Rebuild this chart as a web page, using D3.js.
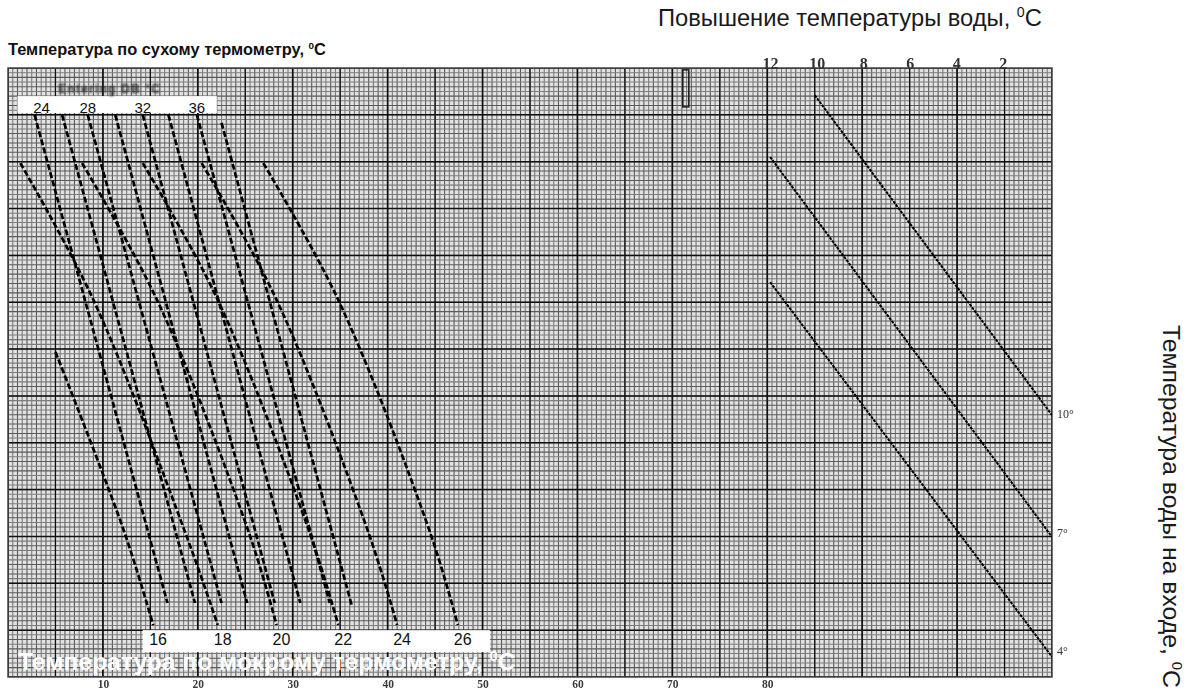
<!DOCTYPE html>
<html><head><meta charset="utf-8">
<script src="https://cdn.jsdelivr.net/npm/d3@7"></script>
<style>
html,body{margin:0;padding:0;background:#fff;}
svg{display:block;}
</style></head><body>
<svg id="chart" width="1189" height="691"></svg>
<script>
// ---------------- data ----------------
const xTicks = [10, 20, 30, 40, 50, 60, 70, 80];
const riseTicks = [12, 10, 8, 6, 4, 2];
const inletTicks = [10, 7, 4];

// dry bulb (entering DB) dashed lines
const dryTemps = [24, 26, 28, 30, 32, 34, 36, 38];
const dryLabelTemps = [24, 28, 32, 36];
const dryStartX = [2.8, 5.7, 8.4, 11.3, 14.2, 16.9, 19.9, 22.5];
const dryStartY = [120, 120, 120, 120, 120, 120, 120, 118.3];
const dryEndX = [16.8, 19.7, 22.5, 25.2, 28.1, 30.8, 33.9, 36.2];
const dryEndY = [15.8, 15.8, 15.8, 15.8, 15.8, 15.8, 15.8, 15.4];

// wet bulb dashed lines
const wetTemps = [16, 18, 20, 22, 24, 26];
const wet16 = [[5.0, 69.4], [12.3, 30.7], [15.3, 11.1]];
const wet18 = [[1.3, 109.7], [9.0, 80.5], [18.7, 30.7], [22.1, 11.1]];
const wet20 = [[7.8, 109.7], [15.7, 80.5], [25.4, 30.7], [28.3, 11.1]];
const wet22 = [[14.2, 109.7], [22.1, 80.5], [31.8, 30.7], [34.8, 11.1]];
const wet24 = [[20.4, 109.7], [28.3, 80.5], [38.0, 30.7], [41.0, 11.1]];
const wet26 = [[26.9, 109.7], [34.8, 80.5], [44.5, 30.7], [47.4, 11.1]];
const wetLines = [wet16, wet18, wet20, wet22, wet24, wet26];

// water temperature rise / inlet temperature lines (right)
const inletStartX = [85.0, 80.3, 80.3];
const inletStartY = [124.2, 111.0, 84.3];
const inletEndX = [110, 110, 110];
const inletEndY = [55.9, 29.9, 4.3];

// ---------------- layout ----------------
const svg = d3.select("#chart");
const x = d3.scaleLinear().domain([0, 110]).range([8, 1052]);
const y = d3.scaleLinear().domain([0, 130]).range([677, 68]);
const riseScale = d3.scaleLinear().domain([12, 2]).range([x(80.3), x(104.8)]);
const inletScale = d3.scaleLinear().domain([10, 4]).range([y(55.9) - 1, y(4.3) - 6]);

const defs = svg.append("defs");
defs.append("filter").attr("id", "blur").append("feGaussianBlur").attr("stdDeviation", 0.5);
defs.append("filter").attr("id", "blur2").append("feGaussianBlur").attr("stdDeviation", 0.8);
defs.append("filter").attr("id", "soft").append("feGaussianBlur").attr("stdDeviation", 0.35);
defs.append("clipPath").attr("id", "plotclip").append("rect")
  .attr("x", x(0)).attr("y", y(130)).attr("width", x(110) - x(0)).attr("height", y(0) - y(130));

// ---------- grid paper ----------
const grid = svg.append("g").attr("clip-path", "url(#plotclip)");
const paper = grid.append("g").attr("filter", "url(#soft)");
paper.append("rect").attr("x", x(0)).attr("y", y(130))
  .attr("width", x(110) - x(0)).attr("height", y(0) - y(130)).attr("fill", "#e2e2e2");

const fineX = d3.range(0, 110.01, 0.5);
const fineY = d3.range(0, 130.01, 1);
paper.append("g").selectAll("line").data(fineX).join("line")
  .attr("x1", d => x(d)).attr("x2", d => x(d)).attr("y1", y(0)).attr("y2", y(130))
  .attr("stroke", d => (Math.round(d * 2) % 2 === 0 ? "#5a5a5a" : "#7c7c7c"))
  .attr("stroke-width", 1.1);
paper.append("g").selectAll("line").data(fineY).join("line")
  .attr("x1", x(0)).attr("x2", x(110)).attr("y1", d => y(d)).attr("y2", d => y(d))
  .attr("stroke", d => (d % 2 === 0 ? "#5a5a5a" : "#7c7c7c"))
  .attr("stroke-width", 1.05);

const majorX = d3.range(0, 110.01, 5);
const majorY = d3.range(0, 130.01, 10);
grid.append("g").selectAll("line").data(majorX).join("line")
  .attr("x1", d => x(d)).attr("x2", d => x(d)).attr("y1", y(0)).attr("y2", y(130))
  .attr("stroke", "#111").attr("stroke-width", d => d % 10 === 0 ? 1.7 : 1.3);
grid.append("g").selectAll("line").data(majorY).join("line")
  .attr("x1", x(0)).attr("x2", x(110)).attr("y1", d => y(d)).attr("y2", d => y(d))
  .attr("stroke", "#111").attr("stroke-width", 1.5);

svg.append("rect").attr("x", x(0)).attr("y", y(130))
  .attr("width", x(110) - x(0)).attr("height", y(0) - y(130))
  .attr("fill", "none").attr("stroke", "#444").attr("stroke-width", 1.5);

// ---------- curves ----------
const lineGen = d3.line().x(d => x(d[0])).y(d => y(d[1])).curve(d3.curveCatmullRom.alpha(0.5));

const curves = svg.append("g").attr("clip-path", "url(#plotclip)");
curves.selectAll("path.dry").data(dryTemps).join("path").attr("class", "dry")
  .attr("d", (d, i) => lineGen([[dryStartX[i], dryStartY[i]], [dryEndX[i], dryEndY[i]]]))
  .attr("fill", "none").attr("stroke", "#000").attr("stroke-width", 2.7)
  .attr("stroke-dasharray", "6,2.5");
curves.selectAll("path.wet").data(wetLines).join("path").attr("class", "wet")
  .attr("d", d => lineGen(d))
  .attr("fill", "none").attr("stroke", "#000").attr("stroke-width", 2.7)
  .attr("stroke-dasharray", "6,2.5");
curves.selectAll("path.inlet").data(inletTicks).join("path").attr("class", "inlet")
  .attr("d", (d, i) => lineGen([[inletStartX[i], inletStartY[i]], [inletEndX[i], inletEndY[i]]]))
  .attr("fill", "none").attr("stroke", "#000").attr("stroke-width", 2)
  .attr("stroke-dasharray", "3,1");

// small vertical glyph at top
svg.append("rect").attr("x", x(71.1)).attr("y", y(129.6)).attr("width", 6).attr("height", y(121.7) - y(129.6))
  .attr("fill", "none").attr("stroke", "#222").attr("stroke-width", 1.6).attr("filter", "url(#blur)");

// ---------- label boxes ----------
svg.append("rect").attr("x", x(1.0)).attr("y", y(124.0)).attr("width", x(22.0) - x(1.0))
  .attr("height", y(120.4) - y(124.0)).attr("fill", "#fff");
svg.append("g").selectAll("text").data(dryLabelTemps).join("text")
  .attr("x", d => x(dryStartX[dryTemps.indexOf(d)]) + (d === 24 ? 7 : 0))
  .attr("y", y(120.4))
  .attr("text-anchor", "middle").attr("font-family", "Liberation Sans, Arial, sans-serif")
  .attr("font-size", 15).attr("fill", "#111").text(d => d);

svg.append("text").attr("x", x(5.3)).attr("y", y(124.6))
  .attr("font-family", "Liberation Sans, Arial, sans-serif").attr("font-weight", "bold")
  .attr("font-size", 12).attr("letter-spacing", 1.2).attr("fill", "#222").attr("filter", "url(#blur2)")
  .text("Entering DB   °C");

svg.append("rect").attr("x", x(14.2)).attr("y", y(10.0)).attr("width", x(50.8) - x(14.2))
  .attr("height", y(5.3) - y(10.0)).attr("fill", "#fff");
svg.append("g").selectAll("text").data(wetTemps).join("text")
  .attr("x", (d, i) => x(wetLines[i][wetLines[i].length - 1][0]) - 4)
  .attr("y", y(6.9))
  .attr("font-family", "Liberation Sans, Arial, sans-serif")
  .attr("font-size", 16).attr("fill", "#111").text(d => d);

// ---------- axes ----------
const axB = svg.append("g").attr("transform", `translate(0,${y(0)})`)
  .call(d3.axisBottom(x).tickValues(xTicks).tickSize(0).tickPadding(3).tickFormat(d3.format("d")));
axB.select(".domain").remove();
axB.selectAll("text").attr("font-family", "Liberation Serif, serif").attr("font-weight", "bold")
  .attr("font-size", 11.5).attr("fill", "#3a3a3a").attr("filter", "url(#blur)");

const axT = svg.append("g").attr("transform", `translate(0,${y(130)})`)
  .call(d3.axisTop(riseScale).tickValues(riseTicks).tickSize(0).tickPadding(-1).tickFormat(d3.format("d")));
axT.select(".domain").remove();
axT.selectAll("text").attr("font-family", "Liberation Serif, serif").attr("font-weight", "bold")
  .attr("font-size", 16).attr("fill", "#333").attr("filter", "url(#blur)");

const axR = svg.append("g").attr("transform", `translate(${x(110)},0)`)
  .call(d3.axisRight(inletScale).tickValues(inletTicks).tickSize(0).tickPadding(5).tickFormat(d => d + "°"));
axR.select(".domain").remove();
axR.selectAll("text").attr("font-family", "Liberation Serif, serif")
  .attr("font-size", 12).attr("fill", "#333").attr("filter", "url(#blur)");

// ---------- titles ----------
function titled(g, main, bold, fill) {
  const t = g.append("text").attr("font-family", "Liberation Sans, Arial, sans-serif")
    .attr("font-weight", bold ? "bold" : "normal").attr("fill", fill).attr("font-size", 18);
  t.append("tspan").text(main);
  t.append("tspan").attr("font-size", "0.6em").attr("dy", "-0.6em").text("0");
  t.append("tspan").attr("dy", "0.36em").text("C");
  return t;
}
function fit(t, target) {
  const w = t.node().getComputedTextLength();
  t.attr("font-size", 18 * target / w);
}

const t1 = titled(svg.append("g").attr("transform", "translate(8,55)"), "Температура по сухому термометру, ", true, "#111");
fit(t1, 318);
const t2 = titled(svg.append("g").attr("transform", "translate(658,26)"), "Повышение температуры воды, ", false, "#1a1a1a");
fit(t2, 384);
const t3 = titled(svg.append("g").attr("transform", "translate(1163,325) rotate(90)"), "Температура воды на входе, ", false, "#1a1a1a");
fit(t3, 363);
const t4 = titled(svg.append("g").attr("transform", "translate(18,670)"), "Температура по мокрому термометру, ", true, "#fff");
fit(t4, 498);
</script>
</body></html>
